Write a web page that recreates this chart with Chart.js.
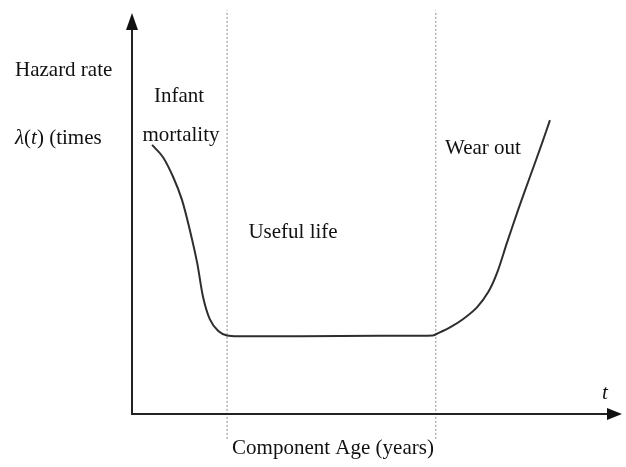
<!DOCTYPE html>
<html>
<head>
<meta charset="utf-8">
<script src="https://cdn.jsdelivr.net/npm/chart.js@4/dist/chart.umd.min.js"></script>
<style>
  body { margin: 0; background: #fff; }
  canvas { display: block; }
</style>
</head>
<body>
<canvas id="hazardChart" width="626" height="467"></canvas>
<script>
// bathtub curve, arbitrary units (age 0-10, rate 0-10)
const ageValues = [0.41, 0.63, 0.84, 1.02, 1.18, 1.33, 1.45, 1.59, 1.76, 1.94, 2.20, 3.43, 5.06, 6.14,
                   6.24, 6.49, 6.76, 7.04, 7.27, 7.45, 7.65, 7.88, 8.12, 8.37, 8.53];
const hazardValues = [6.71, 6.41, 5.91, 5.34, 4.59, 3.77, 2.92, 2.36, 2.07, 1.96, 1.94, 1.94, 1.95, 1.96,
                      2.01, 2.16, 2.37, 2.66, 3.04, 3.52, 4.26, 5.09, 5.91, 6.76, 7.33];
const phaseBounds = [1.94, 6.20];
const phaseNames = ['Infant mortality', 'Useful life', 'Wear out'];
const axisTitles = ['Hazard rate', 'Component Age (years)'];

const curve = ageValues.map((x, i) => ({ x: x, y: hazardValues[i] }));

function boundLine(x) {
    return {
        data: [{ x: x, y: -0.62 }, { x: x, y: 10.07 }],
        borderColor: '#8a8a8a',
        borderWidth: 1,
        borderDash: [2, 2],
        pointRadius: 0,
        clip: false
    };
}

const serif = '"Liberation Serif", "DejaVu Serif", serif';

// axes with arrows + text labels
const sketchPlugin = {
    id: 'sketch',
    afterDatasetsDraw(chart) {
        const ctx = chart.ctx;
        const xs = chart.scales.x, ys = chart.scales.y;
        const x0 = xs.getPixelForValue(0), y0 = ys.getPixelForValue(0);
        const xEnd = xs.getPixelForValue(10), yTop = ys.getPixelForValue(10);

        ctx.save();
        ctx.strokeStyle = '#222';
        ctx.fillStyle = '#111';
        ctx.lineWidth = 2;
        ctx.beginPath();
        ctx.moveTo(x0, y0 + 1);
        ctx.lineTo(x0, yTop + 14);
        ctx.moveTo(x0 - 1, y0);
        ctx.lineTo(xEnd - 12, y0);
        ctx.stroke();
        // arrow heads
        ctx.beginPath();
        ctx.moveTo(x0, yTop);
        ctx.lineTo(x0 - 6, yTop + 17);
        ctx.lineTo(x0 + 6, yTop + 17);
        ctx.closePath();
        ctx.fill();
        ctx.beginPath();
        ctx.moveTo(xEnd, y0);
        ctx.lineTo(xEnd - 15, y0 - 6);
        ctx.lineTo(xEnd - 15, y0 + 6);
        ctx.closePath();
        ctx.fill();

        ctx.textBaseline = 'middle';
        const put = (txt, x, y, align, style) => {
            ctx.font = (style || '') + ' 21px ' + serif;
            ctx.textAlign = align;
            ctx.fillText(txt, x, y);
        };
        const infant = phaseNames[0].split(' ');
        put(axisTitles[0], 15, 70, 'left');
        // λ(t) (times
        ctx.textAlign = 'left';
        let cx = 15;
        [['λ', 'italic'], ['(', ''], ['t', 'italic'], [') (times', '']].forEach(p => {
            ctx.font = p[1] + ' 21px ' + serif;
            ctx.fillText(p[0], cx, 138);
            cx += ctx.measureText(p[0]).width;
        });

        put(infant[0], 179, 96, 'center');
        put(infant[1], 181, 135, 'center');
        put(phaseNames[1], 293, 232, 'center');
        put(phaseNames[2], 445, 148, 'left');
        put('t', 605, 393, 'center', 'italic');
        put(axisTitles[1], 333, 448, 'center');
        ctx.restore();
    }
};

new Chart(document.getElementById('hazardChart').getContext('2d'), {
    type: 'scatter',
    data: {
        datasets: [
            {
                data: curve,
                showLine: true,
                borderColor: '#2e2e2e',
                borderWidth: 2,
                pointRadius: 0,
                tension: 0.3
            },
            boundLine(phaseBounds[0]),
            boundLine(phaseBounds[1])
        ]
    },
    plugins: [sketchPlugin],
    options: {
        responsive: false,
        animation: false,
        showLine: true,
        layout: { padding: { left: 132, top: 13, right: 4, bottom: 53 } },
        plugins: { legend: { display: false }, tooltip: { enabled: false } },
        scales: {
            x: { type: 'linear', min: 0, max: 10, display: false },
            y: { type: 'linear', min: 0, max: 10, display: false }
        }
    }
});
</script>
</body>
</html>
